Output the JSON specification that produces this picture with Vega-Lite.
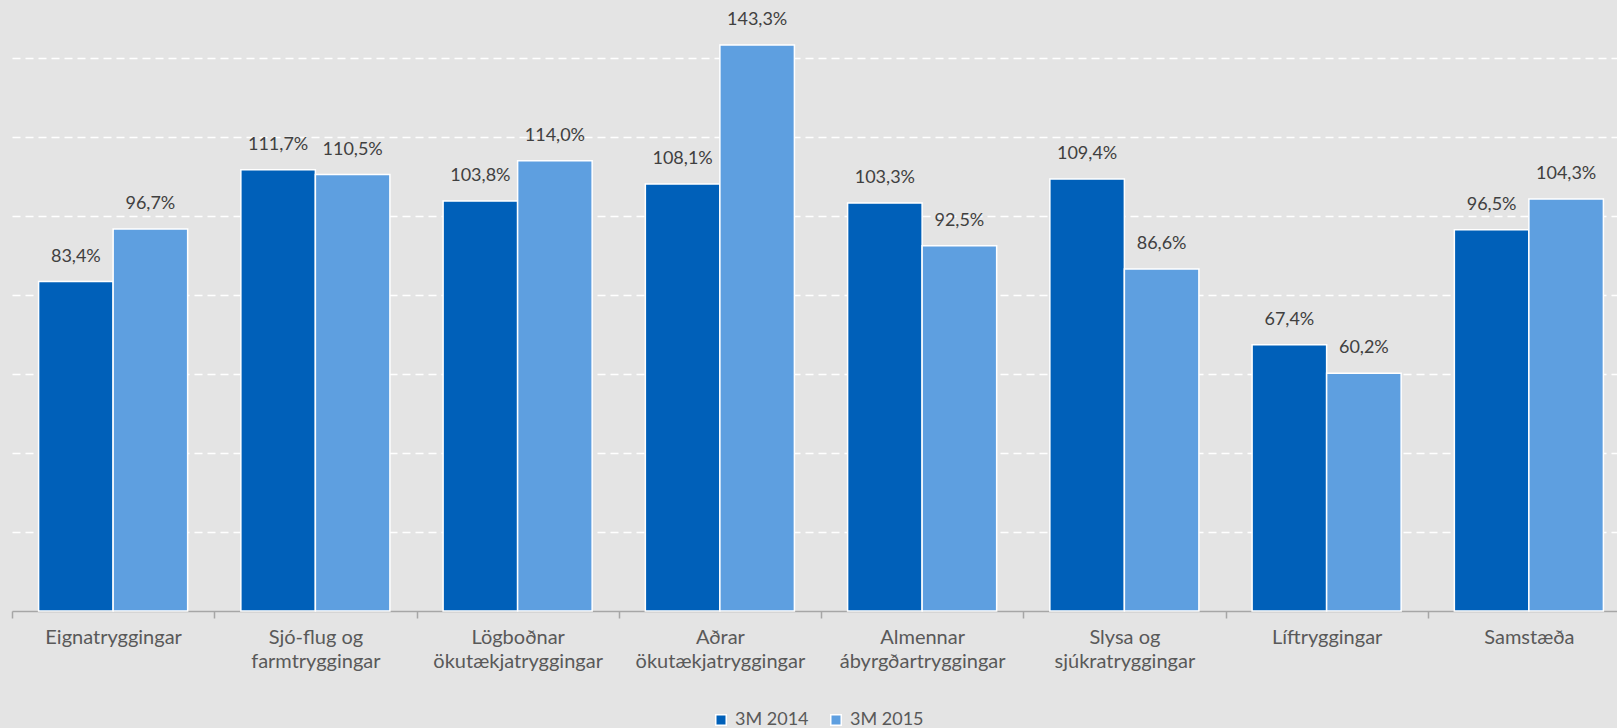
{
  "$schema": "https://vega.github.io/schema/vega-lite/v6.json",
  "autosize": {"type": "none"},
  "width": 1605,
  "height": 611,
  "padding": {"left": 12, "top": 0, "right": 0, "bottom": 117},
  "background": "#E4E4E4",
  "config": {
    "view": {"stroke": null},
    "locale": {"number": {"decimal": ",", "thousands": ".", "grouping": [3], "currency": ["", " kr."]}},
    "font": "Lato"
  },
  "data": {
    "values": [
      {"cat": "Eignatryggingar", "series": "3M 2014", "v": 0.834},
      {"cat": "Eignatryggingar", "series": "3M 2015", "v": 0.967},
      {"cat": "Sjó-flug og farmtryggingar", "series": "3M 2014", "v": 1.117},
      {"cat": "Sjó-flug og farmtryggingar", "series": "3M 2015", "v": 1.105},
      {"cat": "Lögboðnar ökutækjatryggingar", "series": "3M 2014", "v": 1.038},
      {"cat": "Lögboðnar ökutækjatryggingar", "series": "3M 2015", "v": 1.140},
      {"cat": "Aðrar ökutækjatryggingar", "series": "3M 2014", "v": 1.081},
      {"cat": "Aðrar ökutækjatryggingar", "series": "3M 2015", "v": 1.433},
      {"cat": "Almennar ábyrgðartryggingar", "series": "3M 2014", "v": 1.033},
      {"cat": "Almennar ábyrgðartryggingar", "series": "3M 2015", "v": 0.925},
      {"cat": "Slysa og sjúkratryggingar", "series": "3M 2014", "v": 1.094},
      {"cat": "Slysa og sjúkratryggingar", "series": "3M 2015", "v": 0.866},
      {"cat": "Líftryggingar", "series": "3M 2014", "v": 0.674},
      {"cat": "Líftryggingar", "series": "3M 2015", "v": 0.602},
      {"cat": "Samstæða", "series": "3M 2014", "v": 0.965},
      {"cat": "Samstæða", "series": "3M 2015", "v": 1.043}
    ]
  },
  "encoding": {
    "x": {
      "field": "cat", "type": "nominal", "sort": null,
      "scale": {"range": [0, 1618], "paddingInner": 0.263, "paddingOuter": 0.1315},
      "axis": {
        "title": null, "labelAngle": 0, "tickOffset": -101.125, "labelOffset": 101.125,
        "domainColor": "#A6A6A6", "domainWidth": 1.5,
        "tickColor": "#A6A6A6", "tickWidth": 1.5, "tickSize": 7,
        "labelPadding": 9, "labelFont": "Lato", "labelFontSize": 20,
        "labelColor": "#595959", "labelLineHeight": 24, "labelLimit": 0,
        "labelExpr": "lastindexof(datum.label, ' ') > 0 ? [substring(datum.label, 0, lastindexof(datum.label, ' ')), substring(datum.label, lastindexof(datum.label, ' ') + 1)] : datum.label"
      }
    },
    "xOffset": {"field": "series", "type": "nominal", "scale": {"paddingInner": 0, "paddingOuter": 0}},
    "y": {
      "field": "v", "type": "quantitative",
      "scale": {"domain": [0, 1.547], "nice": false},
      "axis": {
        "title": null, "labels": false, "ticks": false, "domain": false,
        "values": [0.2, 0.4, 0.6, 0.8, 1.0, 1.2, 1.4],
        "grid": true, "gridColor": "#FFFFFF", "gridWidth": 1.5, "gridDash": [8, 5]
      }
    }
  },
  "layer": [
    {
      "mark": {"type": "bar", "stroke": "#FFFFFF", "strokeWidth": 1.5},
      "encoding": {
        "color": {
          "field": "series", "type": "nominal",
          "scale": {"domain": ["3M 2014", "3M 2015"], "range": ["#0060B9", "#5E9FE0"]},
          "legend": {
            "title": null, "orient": "none", "direction": "horizontal",
            "legendX": 700, "legendY": 711,
            "symbolType": "square", "symbolSize": 110, "symbolStrokeColor": "#FFFFFF", "symbolStrokeWidth": 1.5,
            "labelFont": "Lato", "labelFontSize": 18, "labelColor": "#595959",
            "labelOffset": 5, "columnPadding": 18
          }
        }
      }
    },
    {
      "mark": {"type": "text", "baseline": "alphabetic", "dy": -20, "font": "Lato", "fontSize": 18, "color": "#404040"},
      "encoding": {
        "text": {"field": "v", "type": "quantitative", "format": ".1%"}
      }
    }
  ]
}
